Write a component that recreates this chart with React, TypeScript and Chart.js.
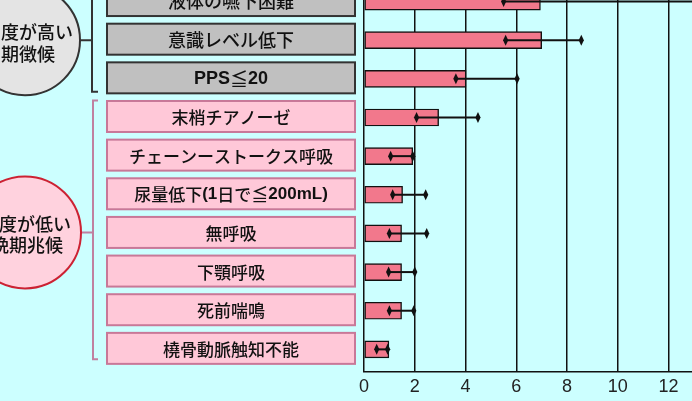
import { useEffect, useRef } from 'react';
import { Chart, registerables } from 'chart.js';

Chart.register(...registerables);

// rows from top to bottom (the first row is cut off by the crop)
const categories = [
    '液体の嚥下困難',
    '意識レベル低下',
    'PPS≦20',
    '末梢チアノーゼ',
    'チェーンーストークス呼吸',
    '尿量低下(1日で≦200mL)',
    '無呼吸',
    '下顎呼吸',
    '死前喘鳴',
    '橈骨動脈触知不能',
];
const barValues = [6.95, 7.0, 4.02, 2.94, 1.92, 1.52, 1.48, 1.48, 1.48, 0.98];
const errLow = [5.5, 5.58, 3.62, 2.07, 1.05, 1.13, 1.0, 0.97, 1.0, 0.5];
const errHigh = [14, 8.56, 6.03, 4.49, 1.92, 2.43, 2.47, 2.0, 1.96, 0.93];
const xTicks = [0, 2, 4, 6, 8, 10, 12];
// first 3 rows belong to the grey group, the rest to the pink group
const highGroupCount = 3;
const highGroupTitle = ['度が高い', '期徴候'];
const lowGroupTitle = ['度が低い', '晩期兆候'];

const JP = '"Noto Sans CJK JP", sans-serif';
const LAT = '"Liberation Sans", Arial, sans-serif';

// draws a label where ascii parts are bold latin, the rest japanese
const drawMixed = (ctx: CanvasRenderingContext2D, text: string, cx: number, cy: number, size: number) => {
    const runs = text.match(/[A-Za-z0-9()]+|[^A-Za-z0-9()]+/g) || [];
    const fontFor = (r: string) => (/^[A-Za-z0-9()]/.test(r) ? `bold ${size}px ${LAT}` : `500 ${size}px ${JP}`);
    let total = 0;
    const widths = runs.map((r) => {
        ctx.font = fontFor(r);
        const w = ctx.measureText(r).width;
        total += w;
        return w;
    });
    let x = cx - total / 2;
    ctx.textAlign = 'left';
    ctx.textBaseline = 'middle';
    runs.forEach((r, i) => {
        ctx.font = fontFor(r);
        ctx.fillText(r, x, cy);
        x += widths[i];
    });
};

const diamond = (ctx: CanvasRenderingContext2D, cx: number, cy: number) => {
    ctx.beginPath();
    ctx.moveTo(cx, cy - 5.5);
    ctx.lineTo(cx + 2.6, cy);
    ctx.lineTo(cx, cy + 5.5);
    ctx.lineTo(cx - 2.6, cy);
    ctx.closePath();
    ctx.fill();
};

const decorPlugin = {
    id: 'decor',
    afterDatasetsDraw(chart: any) {
        const { ctx, scales } = chart;
        const x = scales.x;
        const y = scales.y;
        ctx.save();
        ctx.strokeStyle = '#111';
        ctx.fillStyle = '#111';
        ctx.lineWidth = 2;
        for (let i = 0; i < categories.length; i++) {
            const cy = y.getPixelForValue(i);
            const x1 = x.getPixelForValue(errLow[i]);
            const x2 = x.getPixelForValue(errHigh[i]);
            ctx.beginPath();
            ctx.moveTo(x1, cy);
            ctx.lineTo(x2, cy);
            ctx.stroke();
            diamond(ctx, x1, cy);
            diamond(ctx, x2, cy);
        }
        ctx.restore();
    },
    afterDraw(chart: any) {
        const { ctx } = chart;
        const y = chart.scales.y;
        const boxLeft = 107;
        const boxRight = 355;
        const boxH = 31;
        ctx.save();

        // label boxes
        categories.forEach((label, i) => {
            const cy = y.getPixelForValue(i) - 1;
            const high = i < highGroupCount;
            ctx.fillStyle = high ? '#c0c0c0' : '#ffc8d8';
            ctx.strokeStyle = high ? '#333' : '#c87898';
            ctx.lineWidth = 2;
            ctx.fillRect(boxLeft, cy - boxH / 2, boxRight - boxLeft, boxH);
            ctx.strokeRect(boxLeft, cy - boxH / 2, boxRight - boxLeft, boxH);
            ctx.fillStyle = '#111';
            drawMixed(ctx, label, (boxLeft + boxRight) / 2, cy + 1, high ? 18 : 17);
        });

        // grey group bracket + circle
        const c1y = y.getPixelForValue(1);
        const g1bottom = y.getPixelForValue(highGroupCount - 1) + 13;
        ctx.strokeStyle = '#333';
        ctx.lineWidth = 2;
        ctx.beginPath();
        ctx.moveTo(92, -10);
        ctx.lineTo(92, g1bottom);
        ctx.lineTo(98, g1bottom);
        ctx.moveTo(78, c1y);
        ctx.lineTo(92, c1y);
        ctx.stroke();
        ctx.beginPath();
        ctx.arc(25, c1y, 55, 0, Math.PI * 2);
        ctx.fillStyle = '#e4e4e4';
        ctx.fill();
        ctx.stroke();
        ctx.fillStyle = '#111';
        ctx.font = `500 18px ${JP}`;
        ctx.textBaseline = 'middle';
        ctx.textAlign = 'left';
        ctx.fillText(highGroupTitle[0], 1, c1y - 8);
        ctx.fillText(highGroupTitle[1], 1, c1y + 14);

        // pink group bracket + circle
        const c2y = y.getPixelForValue(6) - 1;
        const g2top = y.getPixelForValue(highGroupCount) - 17;
        const g2bottom = y.getPixelForValue(categories.length - 1) + 10;
        ctx.strokeStyle = '#c080a0';
        ctx.beginPath();
        ctx.moveTo(98, g2top);
        ctx.lineTo(93, g2top);
        ctx.lineTo(93, g2bottom);
        ctx.lineTo(98, g2bottom);
        ctx.moveTo(79, c2y);
        ctx.lineTo(93, c2y);
        ctx.stroke();
        ctx.beginPath();
        ctx.arc(25, c2y, 56, 0, Math.PI * 2);
        ctx.fillStyle = '#ffd2de';
        ctx.strokeStyle = '#cc2233';
        ctx.fill();
        ctx.stroke();
        ctx.fillStyle = '#111';
        ctx.font = `500 18px ${JP}`;
        ctx.textAlign = 'right';
        ctx.fillText(lowGroupTitle[0], 71, c2y - 8);
        ctx.fillText(lowGroupTitle[1], 63, c2y + 13);

        ctx.restore();
    },
};

const App = () => {
    const chartRef = useRef<HTMLCanvasElement | null>(null);

    useEffect(() => {
        const ctx = chartRef.current?.getContext('2d');
        if (!ctx) return;

        const chartInstance = new Chart(ctx, {
            type: 'bar',
            data: {
                datasets: [
                    {
                        data: barValues.map((v, i) => ({ x: v, y: i })),
                        backgroundColor: '#f2788c',
                        borderColor: '#111',
                        borderWidth: 1.4,
                        borderSkipped: false,
                        barThickness: 17,
                    },
                ],
            },
            options: {
                indexAxis: 'y',
                animation: false,
                responsive: true,
                maintainAspectRatio: false,
                layout: { padding: { left: 364, right: 0, top: 0, bottom: 4 } },
                plugins: {
                    legend: { display: false },
                    tooltip: { enabled: false },
                },
                scales: {
                    y: {
                        type: 'linear',
                        display: false,
                        offset: false,
                        reverse: true,
                        min: -0.04,
                        max: 9.57,
                    },
                    x: {
                        type: 'linear',
                        min: 0,
                        max: 13,
                        afterBuildTicks: (scale: any) => {
                            scale.ticks = xTicks.map((v) => ({ value: v }));
                        },
                        grid: { color: '#111', lineWidth: 1.5, drawTicks: false },
                        border: { color: '#111', width: 1.5 },
                        ticks: {
                            padding: 5,
                            color: '#222',
                            font: { family: LAT, size: 18 },
                        },
                    },
                },
            } as any,
            plugins: [decorPlugin],
        });

        return () => {
            chartInstance.destroy();
        };
    }, []);

    return (
        <div style={{ position: 'fixed', left: 0, top: 0, width: 692, height: 401, overflow: 'hidden', background: '#ccffff' }}>
            <div style={{ position: 'absolute', left: 0, top: 0, width: 694, height: 407 }}>
                <canvas ref={chartRef}></canvas>
            </div>
        </div>
    );
};

export default App;
